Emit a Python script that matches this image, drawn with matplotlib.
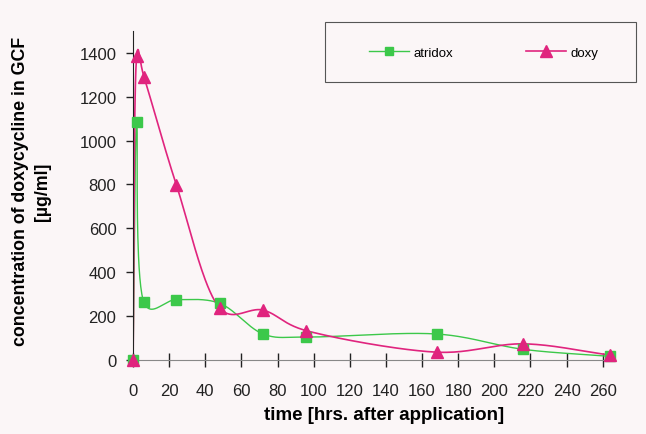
import numpy as np
import matplotlib
matplotlib.use("Agg")
import matplotlib.pyplot as plt
from matplotlib.lines import Line2D
from matplotlib.patches import Rectangle

plt.rcParams['font.family'] = ['Liberation Sans', 'DejaVu Sans']

time_h = [0, 2, 6, 24, 48, 72, 96, 168, 216, 264]
atridox = [0, 1085, 262, 274, 257, 117, 103, 117, 47, 15]
doxy = [0, 1387, 1293, 797, 235, 226, 132, 34, 72, 21]
x_ticks = list(range(0, 261, 20))
y_ticks = list(range(0, 1401, 200))

GREEN = '#3cc84a'
PINK = '#e0247e'
BG = '#fbf6f7'

XMAX, YMAX = 265, 1500
SX, SY = 479.0 / XMAX, 329.0 / YMAX  # approx pixel scale, used for smoothing only


def smooth(xs, ys, n=40, alpha=0.2):
    # Catmull-Rom smoothing of the drawn line
    P = np.column_stack([np.asarray(xs, float) * SX, np.asarray(ys, float) * SY])
    P = np.vstack([2 * P[0] - P[1], P, 2 * P[-1] - P[-2]])
    out = []
    for i in range(1, len(P) - 2):
        p0, p1, p2, p3 = P[i - 1], P[i], P[i + 1], P[i + 2]
        t0 = 0.0
        t1 = t0 + max(np.linalg.norm(p1 - p0), 1e-6) ** alpha
        t2 = t1 + max(np.linalg.norm(p2 - p1), 1e-6) ** alpha
        t3 = t2 + max(np.linalg.norm(p3 - p2), 1e-6) ** alpha
        t = np.linspace(t1, t2, n)[:, None]
        a1 = (t1 - t) / (t1 - t0) * p0 + (t - t0) / (t1 - t0) * p1
        a2 = (t2 - t) / (t2 - t1) * p1 + (t - t1) / (t2 - t1) * p2
        a3 = (t3 - t) / (t3 - t2) * p2 + (t - t2) / (t3 - t2) * p3
        b1 = (t2 - t) / (t2 - t0) * a1 + (t - t0) / (t2 - t0) * a2
        b2 = (t3 - t) / (t3 - t1) * a2 + (t - t1) / (t3 - t1) * a3
        c = (t2 - t) / (t2 - t1) * b1 + (t - t1) / (t2 - t1) * b2
        out.append(c)
    c = np.vstack(out)
    return c[:, 0] / SX, c[:, 1] / SY


fig = plt.figure(figsize=(6.46, 4.35), dpi=100, facecolor=BG)
ax = fig.add_axes([0.206, 0.171, 0.741, 0.755])
ax.set_facecolor(BG)

sx, sy = smooth(time_h, atridox)
ax.plot(sx, sy, color=GREEN, lw=1.0, zorder=2)
ax.plot(time_h, atridox, ls='none', marker='s', ms=7, color=GREEN, zorder=3, clip_on=False)

sx, sy = smooth(time_h, doxy)
ax.plot(sx, sy, color=PINK, lw=1.2, zorder=2)
ax.plot(time_h, doxy, ls='none', marker='^', ms=9, color=PINK, zorder=4, clip_on=False)

ax.set_xlim(0, XMAX)
ax.set_ylim(0, YMAX)
ax.set_xticks(x_ticks)
ax.set_yticks(y_ticks)
ax.tick_params(axis='x', direction='inout', length=10, width=1, labelsize=12, pad=11.5, colors='#222222')
ax.tick_params(axis='y', direction='out', length=5, width=1, labelsize=12, pad=7, colors='#222222')
for s in ['top', 'right']:
    ax.spines[s].set_visible(False)
ax.spines['left'].set_color('#222222')
ax.spines['bottom'].set_color('#888888')

ax.set_xlabel('time [hrs. after application]', fontsize=13.5, fontweight='bold')
ax.xaxis.set_label_coords(0.524, -0.140)
ax.set_ylabel('concentration of doxycycline in GCF\n[µg/ml]', fontsize=12.8, fontweight='bold',
              linespacing=1.4)
ax.yaxis.set_label_coords(-0.171, 0.514)

# legend frame
fig.patches.append(Rectangle((325 / 646, 1 - 83 / 435), (636 - 325) / 646, (83 - 23) / 435,
                             transform=fig.transFigure, facecolor=BG, edgecolor='#555555',
                             lw=0.8, zorder=5))
handles = [
    Line2D([], [], color=GREEN, lw=1.0, marker='s', ms=6),
    Line2D([], [], color=PINK, lw=1.2, marker='^', ms=8),
]
leg = fig.legend(handles, ['atridox', 'doxy'], loc='center',
                 bbox_to_anchor=(0.749, 0.876), ncol=2, frameon=False,
                 fontsize=9.5, handlelength=3.0, handletextpad=0.4,
                 borderpad=0, columnspacing=5.5)
leg.set_zorder(6)

fig.savefig('out.png', dpi=100, facecolor=BG)
